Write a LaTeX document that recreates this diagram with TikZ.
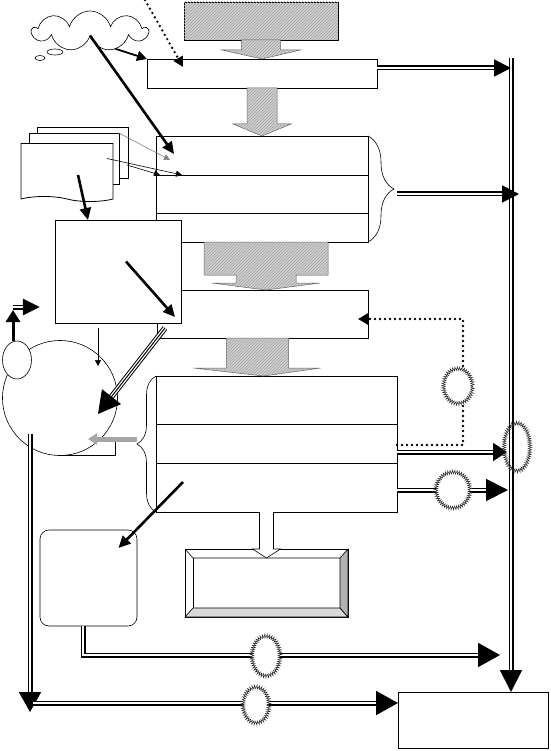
\documentclass[tikz,border=0pt]{standalone}
\usepackage{tikz}
\usetikzlibrary{arrows.meta,positioning,calc,decorations.pathreplacing,decorations.pathmorphing,shapes.geometric,shapes.symbols,patterns}
\tikzset{
  base/.style={inner sep=0pt, outer sep=0pt},
  stage/.style={base, rectangle, draw=black, fill=white, line width=0.8pt},
  sheet/.style={base, rectangle, draw=black, fill=white, line width=0.8pt, minimum height=51pt},
  hatch/.style={fill=gray!35, postaction={pattern=north east lines, pattern color=gray!75}},
  blockarrow/.style={hatch, draw=gray!70!black, line width=0.5pt, line join=miter},
  link/.style={-{Triangle[length=12pt,width=11pt]}, line width=2.6pt},
  fine/.style={-{Triangle[length=6pt,width=6pt]}, line width=0.6pt},
  dline/.style={double=white, double distance=1.2pt, line width=1.9pt},
  dots/.style={dash pattern=on 0pt off 5pt, line cap=round, line width=2.6pt},
  burst/.style={base, ellipse, draw=black!85, fill=white, line width=0.5pt, decorate, decoration={zigzag, segment length=2.2pt, amplitude=1.8pt}},
  triple/.style={line width=1pt, -{Triangle[length=22pt,width=24pt]}, preaction={draw, -, double=white, double distance=3.6pt, shorten >=18pt}},
  bracket/.style={decorate, decoration={brace, amplitude=#1}, line width=0.6pt}
}

\begin{document}
\begin{tikzpicture}[x=1pt, y=-1pt]
  \useasboundingbox (0,0) rectangle (550,751);

  % Bus on the right
  \coordinate (bus) at (511,58);

  % Main column
  \node[stage, hatch, minimum width=154pt, minimum height=38pt] (src) at (261,21) {};
  \node[stage, minimum width=230pt, minimum height=29pt] (stage1) at (262,73.5) {};
  \node[stage, minimum width=212pt, minimum height=106pt] (stage2) at (262,189) {};
  \draw[line width=0.8pt] ([yshift=-39pt]stage2.north west) -- ([yshift=-39pt]stage2.north east);
  \draw[line width=0.8pt] ([yshift=-77pt]stage2.north west) -- ([yshift=-77pt]stage2.north east);
  \node[stage, minimum width=211pt, minimum height=48pt] (stage3) at (262.5,314) {};
  \node[stage, minimum width=241pt, minimum height=136pt] (stage4) at (276.5,444) {};
  \draw[line width=0.8pt] ([yshift=-48pt]stage4.north west) -- ([yshift=-48pt]stage4.north east);
  \draw[line width=0.8pt] ([yshift=-87pt]stage4.north west) -- ([yshift=-87pt]stage4.north east);
  \draw[bracket=26pt] (stage2.north east) -- (stage2.south east);
  \draw[bracket=19pt] (stage4.south west) -- (stage4.north west);

  % Inputs on the left
  \node[base, cloud, cloud puffs=9, cloud ignores aspect, draw, line width=0.6pt, minimum width=115pt, minimum height=40pt] (idea) at (90,31) {};
  \node[base, ellipse, draw, line width=0.6pt, minimum width=16pt, minimum height=6pt] (bub1) at (55,52) {};
  \node[base, ellipse, draw, line width=0.6pt, minimum width=10pt, minimum height=5pt] (bub2) at (40,58) {};
  \node[sheet, minimum width=91pt] (doc3) at (82.5,152.5) {};
  \node[sheet, minimum width=90pt] (doc2) at (74,158.5) {};
  \node[base, tape, tape bend top=none, tape bend bottom=out and in, draw, fill=white, line width=0.8pt, minimum width=92pt, minimum height=58pt] (doc1) at (67,170) {};
  \node[stage, minimum width=126pt, minimum height=103pt] (ctrl) at (118,271.5) {};

  % Reel and stores
  \node[base, circle, draw, line width=0.6pt, minimum size=115pt] (reel) at (60,398) {};
  \draw[line width=0.6pt] (reel.south) -- ++(55,0) -- ++(0,-14);
  \node[base, ellipse, draw, fill=white, line width=0.6pt, minimum width=29pt, minimum height=38pt] (spool) at (17,360) {};
  \node[stage, rounded corners=9pt, line width=0.6pt, minimum width=97pt, minimum height=96pt] (store) at (88.5,578) {};
  \node[stage, minimum width=150pt, minimum height=56pt] (sink) at (473,720) {};

  % Framed output
  \node[stage, minimum width=163pt, minimum height=68pt] (out) at (266.5,583) {};
  \filldraw[gray!30, draw=black, line width=0.6pt] (out.south west) -- (out.south east) -- ($(out.south east)+(-8,-9)$) -- ($(out.south west)+(8,-9)$) -- cycle;
  \filldraw[gray!60, draw=black, line width=0.6pt] (out.north east) -- (out.south east) -- ($(out.south east)+(-8,-9)$) -- ($(out.north east)+(-8,9)$) -- cycle;
  \draw[line width=0.6pt] (out.north west) -- ($(out.north west)+(8,9)$) -- ($(out.north east)+(-8,9)$);
  \draw[line width=0.6pt] ($(out.north west)+(8,9)$) -- ($(out.south west)+(8,-9)$);

  % Block arrows down the main column
  \draw[blockarrow] ($(src.south)+(-19.5,0)$) -- ++(0,10) -- ++(-19.5,0) -- (stage1.north) -- ($(src.south)+(39,10)$) -- ++(-19.5,0) -- ++(0,-10) -- cycle;
  \draw[blockarrow] ($(stage1.south)+(-15,0)$) -- ++(0,36) -- ++(-14,0) -- (stage2.north) -- ($(stage1.south)+(29,36)$) -- ++(-14,0) -- ++(0,-36) -- cycle;
  \coordinate (s23) at ($(stage2.south)+(4,0)$);
  \draw[blockarrow] ($(s23)+(-62,0)$) -- ++(0,33) -- ++(32,0) -- ++(0,8) -- ++(-24,0) -- (s23 |- stage3.north) -- ($(s23)+(54,41)$) -- ++(-24,0) -- ++(0,-8) -- ++(32,0) -- ++(0,-33) -- cycle;
  \coordinate (s34) at ($(stage3.south)+(-5,0)$);
  \draw[blockarrow] ($(s34)+(-31,0)$) -- ++(0,30) -- ++(-33,0) -- ($(s34 |- stage4.north)+(6,0)$) -- ($(s34)+(63,30)$) -- ++(-32,0) -- ++(0,-30) -- cycle;
  \coordinate (s45) at (out.north |- stage4.south);
  \draw[line width=0.6pt, fill=white] ($(s45)+(-7,0)$) -- ($(out.north)+(-7,0)$) -- ++(-7,0) -- ($(out.north)+(0,9)$) -- ($(out.north)+(14,0)$) -- ++(-7,0) -- ($(s45)+(7,0)$);

  % Edges into the column
  \coordinate (ext) at (145,0);
  \draw[dots, -{Triangle[length=10pt,width=10pt]}] (ext) -- ($(stage1.north west)+(36,8)$);
  \draw[line width=1.8pt, -{Triangle[length=10pt,width=10pt]}] (idea.-35) -- (stage1.north west);
  \draw[link] (idea.south) -- ($(stage2.north west)+(18,18)$);
  \draw[fine, gray] (doc2.north east) -- ($(stage2.north west)+(14,24)$);
  \draw[fine] ($(doc1.north east)+(-6,15)$) -- ($(stage2.north west)+(26,39)$);
  \draw[fine] ($(doc3.south east)+(-1,-13)$) -- ($(stage2.north west)+(4,39)$);
  \draw[link] ($(doc1.center)+(11,5)$) -- ($(ctrl.north west)+(33,0)$);
  \draw[link] ($(ctrl.center)+(8,-10)$) -- ($(ctrl.south east)+(-6,-6)$);

  % Edges to the reel
  \draw[fine] ($(ctrl.south west)+(43,5)$) -- ($(reel.center)+(38,-32)$);
  \draw[triple] ($(stage3.south west)+(8,-10)$) -- ($(reel.center)+(38,16)$);
  \draw[line width=5pt, gray!70, -{Triangle[length=9pt,width=11pt]}] ($(stage4.west)+(-19,-5)$) -- ($(reel.center)+(28,41)$);
  \draw[line width=3pt, -{Triangle[length=12pt,width=14pt]}] ([xshift=-4pt]spool.north) -- ++(0,-31);
  \coordinate (bend) at ($(spool.north)+(-4,-34)$);
  \draw[dline] (bend) -- ++(12,0);
  \filldraw[line width=0.5pt] ($(bend)+(10,-8)$) -- ($(bend)+(26,0)$) -- ($(bend)+(10,8)$) -- cycle;
  \draw[link] ($(stage4.south west)+(27,-30)$) -- ($(store.center)+(30,-30)$);

  % Edges to the bus
  \draw[dline, -{Triangle[length=22pt,width=22pt]}] (bus) -- (bus |- sink.north);
  \draw[dline, -{Triangle[length=17pt,width=17pt]}] ([yshift=5.5pt]stage1.east) coordinate (o1) -- (o1 -| bus);
  \draw[dline, -{Triangle[length=17pt,width=17pt]}, shorten >=-8pt] ($(stage2.east)+(29,5)$) coordinate (o2) -- (o2 -| bus);
  \draw[dline, -{Triangle[length=14pt,width=18pt]}, shorten >=4pt] ([yshift=-8pt]stage4.east) coordinate (o3) -- (o3 -| bus);
  \node[burst, fill=none, minimum width=26pt, minimum height=48pt] (k1) at (517,447) {};
  \draw[dline, -{Triangle[length=22pt,width=22pt]}, shorten >=3pt] ([yshift=-46pt]stage4.east) coordinate (o4) -- (o4 -| bus);
  \node[burst, minimum width=34pt, minimum height=36pt] (k2) at (453,490) {};

  % Feedback loop
  \coordinate (fbk) at (463,319);
  \draw[dots, -{Triangle[length=10pt,width=11pt]}, shorten >=-10pt] ([yshift=-1pt]stage4.east) -| (fbk) |- ([yshift=-5pt]stage3.east);
  \node[burst, minimum width=29pt, minimum height=35pt] (k3) at (458,386) {};

  % Edges to the sink
  \draw[dline, -{Triangle[length=22pt,width=24pt]}] ($(store.south west)+(43,0)$) -- ++(0,29) -- ++(417,0);
  \node[burst, minimum width=28pt, minimum height=40pt] (k4) at (266,656) {};
  \coordinate (lane) at ([yshift=17pt]sink.west);
  \draw[dline, -{Triangle[length=20pt,width=22pt]}] ($(reel.center)+(-30,36)$) coordinate (drop) -- ($(drop |- lane)+(0,9)$);
  \draw[dline, -{Triangle[length=22pt,width=24pt]}] ($(drop |- lane)+(3,0)$) -- (lane);
  \node[burst, minimum width=26pt, minimum height=36pt] (k5) at (256,705) {};

\end{tikzpicture}
\end{document}
